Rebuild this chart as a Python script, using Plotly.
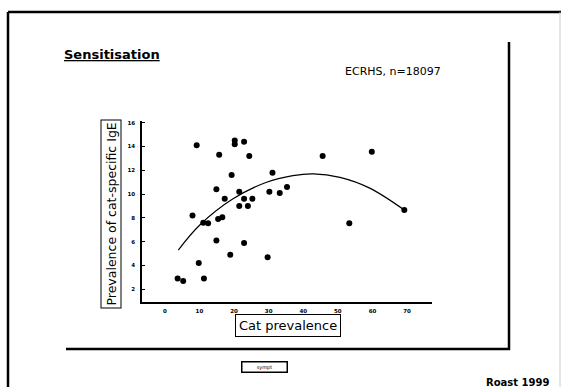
import plotly.graph_objects as go

cat_prev = [3.7, 5.3, 8.0, 9.2, 9.8, 11.3, 11.1, 12.5, 14.9, 14.9, 15.4, 15.7, 16.6, 17.3,
            18.9, 19.3, 20.2, 20.2, 21.5, 21.5, 22.9, 22.9, 22.9, 24.0, 24.4, 25.3, 29.7,
            30.2, 31.1, 33.2, 35.3, 45.6, 53.3, 59.8, 69.2]
ige_prev = [2.9, 2.7, 8.2, 14.1, 4.2, 2.9, 7.6, 7.55, 10.4, 6.1, 7.9, 13.3, 8.05, 9.6,
            4.9, 11.6, 14.5, 14.2, 10.2, 9.0, 9.6, 5.9, 14.4, 9.0, 13.2, 9.6, 4.7,
            10.2, 11.8, 10.1, 10.6, 13.2, 7.55, 13.55, 8.66]
fit_x = [3.9, 10.1, 19.7, 29.4, 37.0, 42.9, 50.6, 59.2, 69.2]
fit_y = [5.3, 7.4, 9.6, 11.0, 11.55, 11.7, 11.4, 10.5, 8.66]
x_ticks = [0, 10, 20, 30, 40, 50, 60, 70]
y_ticks = [2, 4, 6, 8, 10, 12, 14, 16]

fig = go.Figure()
fig.add_trace(go.Scatter(x=fit_x, y=fit_y, mode="lines", line=dict(color="black", width=1.2, shape="spline"),
                         hoverinfo="skip", showlegend=False))
fig.add_trace(go.Scatter(x=cat_prev, y=ige_prev, mode="markers",
                         marker=dict(color="black", size=6), showlegend=False))

W, H = 563, 387
def px(x):
    return x / W
def py(y):
    return 1 - y / H

fig.update_layout(
    width=W, height=H, margin=dict(l=0, r=0, t=0, b=0),
    paper_bgcolor="white", plot_bgcolor="white",
    font=dict(family="DejaVu Sans", color="black"),
    xaxis=dict(domain=[px(142), px(432)], range=[-6.6, 77.2], tickvals=x_ticks,
               ticktext=["<b>%d</b>" % v for v in x_ticks],
               showgrid=False, zeroline=False, showline=True, linecolor="black", linewidth=1.5,
               ticks="", tickfont=dict(size=5.5, color="black"), ticklabelstandoff=3),
    yaxis=dict(domain=[py(302), py(120.7)], range=[0.93, 16.17], tickvals=y_ticks,
               ticktext=["<b>%d</b>" % v for v in y_ticks],
               showgrid=False, zeroline=False, showline=True, linecolor="black", linewidth=1.5,
               ticks="inside", ticklen=3, tickcolor="black", tickfont=dict(size=5.5, color="black"),
               ticklabelstandoff=4),
    shapes=[
        dict(type="line", xref="paper", yref="paper", x0=px(8), x1=px(8), y0=py(12), y1=py(387),
             line=dict(color="black", width=2.5)),
        dict(type="line", xref="paper", yref="paper", x0=px(8), x1=px(561), y0=py(12), y1=py(12),
             line=dict(color="black", width=2.5)),
        dict(type="line", xref="paper", yref="paper", x0=px(560), x1=px(560), y0=py(12), y1=py(387),
             line=dict(color="#cccccc", width=1)),
        dict(type="line", xref="paper", yref="paper", x0=px(509), x1=px(509), y0=py(42), y1=py(350),
             line=dict(color="black", width=2.5)),
        dict(type="line", xref="paper", yref="paper", x0=px(66), x1=px(510), y0=py(349), y1=py(349),
             line=dict(color="black", width=2.5)),
    ],
    annotations=[
        dict(text="<b><u>Sensitisation</u></b>", xref="paper", yref="paper", x=px(62), y=py(54),
             xanchor="left", yanchor="middle", showarrow=False, font=dict(size=13)),
        dict(text="ECRHS, n=18097", xref="paper", yref="paper", x=px(343), y=py(71),
             xanchor="left", yanchor="middle", showarrow=False, font=dict(size=11)),
        dict(text="Prevalence of cat-specific IgE", xref="paper", yref="paper", x=px(111), y=py(214.5),
             xanchor="center", yanchor="middle", showarrow=False, textangle=-90,
             font=dict(size=12.5), bordercolor="black", borderwidth=1, borderpad=2, bgcolor="white"),
        dict(text="Cat prevalence", xref="paper", yref="paper", x=px(288), y=py(325),
             xanchor="center", yanchor="middle", showarrow=False,
             font=dict(size=13), bordercolor="black", borderwidth=1, borderpad=3, bgcolor="white"),
        dict(text="sympt", xref="paper", yref="paper", x=px(264), y=py(367),
             xanchor="center", yanchor="middle", showarrow=False,
             font=dict(size=5), bordercolor="black", borderwidth=1.5, borderpad=1,
             width=42, bgcolor="white"),
        dict(text="<b>Roast 1999</b>", xref="paper", yref="paper", x=px(551), y=py(382),
             xanchor="right", yanchor="middle", showarrow=False, font=dict(size=10)),
    ],
)

fig.write_html("out.html")
